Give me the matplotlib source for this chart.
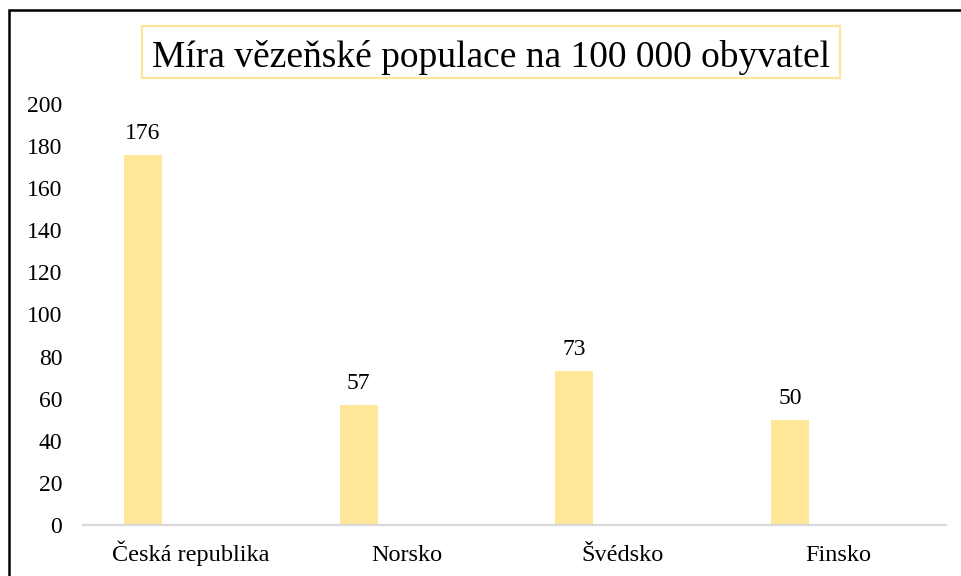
import numpy as np
import matplotlib
matplotlib.use('Agg')
from matplotlib import pyplot as plt
from matplotlib.patches import Rectangle

plt.rcParams['font.family'] = ['Liberation Serif', 'DejaVu Serif']

# data
zeme = ['Česká republika', 'Norsko', 'Švédsko', 'Finsko']
hodnoty = [176, 57, 73, 50]
y_ticks = [0, 20, 40, 60, 80, 100, 120, 140, 160, 180, 200]
nadpis = 'Míra vězeňské populace na 100 000 obyvatel'

W, H = 962, 576
fig = plt.figure(figsize=(W / 100, H / 100), dpi=100)
fig.patch.set_facecolor('white')

# plot area in pixels
x0, x1, y0, y1 = 83, 946, 525, 104
ax = fig.add_axes([x0 / W, (H - y0) / H, (x1 - x0) / W, (y0 - y1) / H])

x = np.arange(len(zeme))
bars = ax.bar(x - 0.222, hodnoty, width=0.176, color='#FFE699', zorder=2)
for b, v in zip(bars, hodnoty):
    ax.annotate(str(v), (b.get_x() + b.get_width() / 2, v), xytext=(0, 11.5),
                textcoords='offset points', ha='center', va='baseline',
                fontsize=17, color='black')

ax.set_xlim(-0.5, len(zeme) - 0.5)
ax.set_ylim(0, 200)
ax.set_yticks(y_ticks)
ax.set_xticks(x)
ax.set_xticklabels(zeme, va='baseline')
ax.tick_params(axis='y', length=0, pad=15, labelsize=17)
ax.tick_params(axis='x', length=0, pad=26, labelsize=17.5)
for s in ['top', 'right', 'left']:
    ax.spines[s].set_visible(False)
ax.spines['bottom'].set_color('#D9D9D9')
ax.spines['bottom'].set_linewidth(1.6)

# title in a box
fig.patches.append(Rectangle((142 / W, 1 - 78 / H), 698 / W, 52 / H, transform=fig.transFigure,
                             facecolor='white', edgecolor='#FFE699', linewidth=1.5))
fig.text(491 / W, 1 - 67 / H, nadpis, ha='center', va='baseline', fontsize=27)

# outer frame (left and top visible)
fig.patches.append(Rectangle((8.5 / W, -0.1), 1.2, 1 - 9.5 / H + 0.1, transform=fig.transFigure,
                             fill=False, edgecolor='black', linewidth=1.8))

plt.savefig('out.png', dpi=100, facecolor='white')
